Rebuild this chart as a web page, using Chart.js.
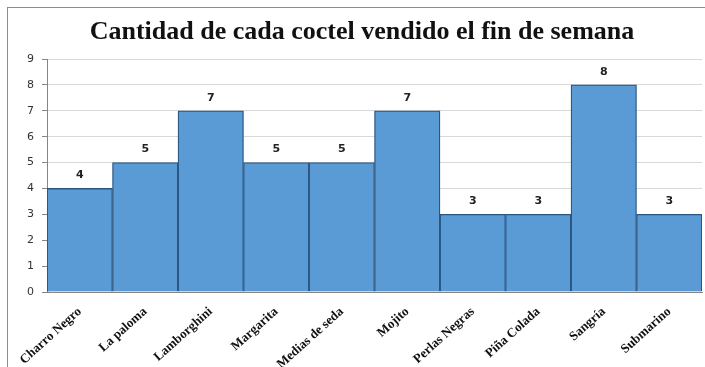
<!DOCTYPE html>
<html>
<head>
<meta charset="utf-8">
<script src="https://cdn.jsdelivr.net/npm/chart.js@4/dist/chart.umd.min.js"></script>
<style>
  html, body { margin: 0; padding: 0; background: #fff; overflow: hidden; }
  #wrap { position: relative; width: 705px; height: 367px; }
  #frame { position: absolute; left: 7px; top: 7px; width: 720px; height: 400px; border: 1px solid #8c8c8c; box-sizing: border-box; pointer-events: none; }
  canvas { position: absolute; left: 0; top: 0; }
</style>
</head>
<body>
<div id="wrap">
  <canvas id="c" width="705" height="367"></canvas>
  <div id="frame"></div>
</div>
<script>
const categories = ["Charro Negro", "La paloma", "Lamborghini", "Margarita", "Medias de seda", "Mojito", "Perlas Negras", "Piña Colada", "Sangría", "Submarino"];
const cantidades = [4, 5, 7, 5, 5, 7, 3, 3, 8, 3];
const yTicks = [0, 1, 2, 3, 4, 5, 6, 7, 8, 9];
const titleText = "Cantidad de cada coctel vendido el fin de semana";

const valueLabels = {
  id: 'valueLabels',
  afterDatasetsDraw(chart) {
    const ctx = chart.ctx;
    const meta = chart.getDatasetMeta(0);
    ctx.save();
    ctx.font = 'bold 11px "DejaVu Sans", sans-serif';
    ctx.fillStyle = '#222';
    ctx.textAlign = 'center';
    ctx.textBaseline = 'middle';
    meta.data.forEach((bar, i) => {
      ctx.fillText(String(chart.data.datasets[0].data[i]), bar.x, bar.y - 13);
    });
    ctx.restore();
  }
};

const chartTitle = {
  id: 'chartTitle',
  afterDraw(chart) {
    const ctx = chart.ctx;
    ctx.save();
    ctx.font = 'bold 26px "Liberation Serif", "Times New Roman", serif';
    ctx.fillStyle = '#111';
    ctx.textAlign = 'center';
    ctx.textBaseline = 'middle';
    ctx.fillText(titleText, 362, 32);
    ctx.restore();
  }
};

new Chart(document.getElementById('c'), {
  type: 'bar',
  data: {
    labels: categories,
    datasets: [{
      data: cantidades,
      backgroundColor: '#5b9bd5',
      borderColor: '#2b5680',
      borderWidth: 1.3,
      barPercentage: 1,
      categoryPercentage: 1
    }]
  },
  options: {
    responsive: false,
    animation: false,
    devicePixelRatio: 1,
    layout: { padding: { left: 0, right: 3, top: 59, bottom: 0 } },
    plugins: {
      legend: { display: false },
      tooltip: { enabled: false },
      title: { display: false }
    },
    scales: {
      x: {
        grid: { display: false },
        border: { display: true, color: '#868686' },
        ticks: {
          autoSkip: false,
          minRotation: 42,
          maxRotation: 42,
          color: '#111',
          padding: 4,
          font: { family: '"Liberation Serif", "Times New Roman", serif', size: 13, weight: 'bold' }
        },
        afterFit(scale) { scale.height = 75; }
      },
      y: {
        min: 0,
        max: 9,
        afterBuildTicks(scale) { scale.ticks = yTicks.map(v => ({ value: v })); },
        grid: { color: '#d9d9d9', tickLength: 5, tickColor: '#868686' },
        border: { display: true, color: '#868686' },
        ticks: {
          color: '#333',
          padding: 8,
          font: { family: '"DejaVu Sans", sans-serif', size: 11 }
        },
        afterFit(scale) { scale.width = 47; }
      }
    }
  },
  plugins: [valueLabels, chartTitle]
});
</script>
</body>
</html>
